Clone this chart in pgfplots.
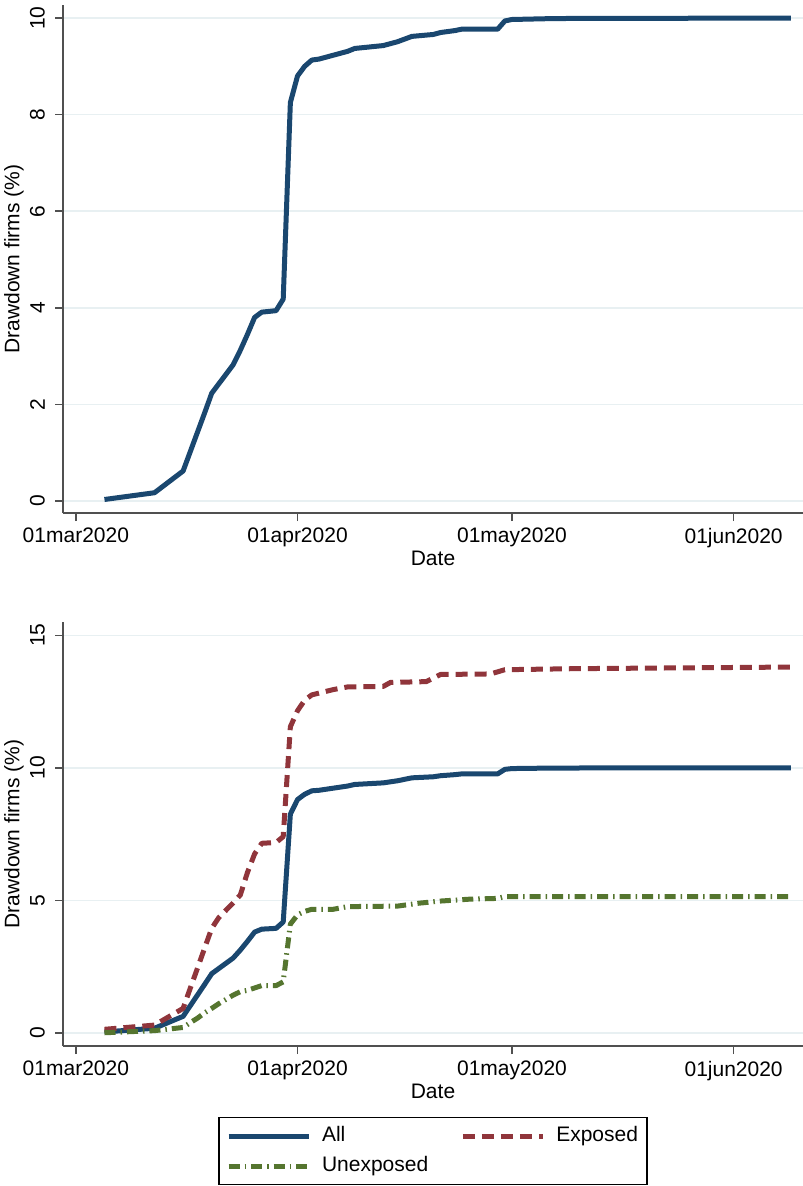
\documentclass[border=0pt]{standalone}
\usepackage{fontspec}
\setmainfont{Liberation Sans}
\usepackage{pgfplots}
\pgfplotsset{compat=1.18}
\usepackage{pgfplotstable}

\definecolor{stblue}{RGB}{26,71,111}
\definecolor{stred}{RGB}{144,53,59}
\definecolor{stgreen}{RGB}{85,117,47}
\definecolor{gridc}{RGB}{232,240,242}
\definecolor{axisc}{RGB}{80,80,80}

% day = days since 01mar2020, value = share of firms with a drawdown (%)
\pgfplotstableread{
day val
4 0.03
11 0.17
15 0.62
16 1.02
17 1.42
18 1.82
19 2.23
22 2.82
23 3.12
24 3.45
25 3.80
26 3.91
28 3.94
29 4.18
30 8.25
31 8.80
32 9.00
33 9.13
34 9.15
36 9.23
38 9.31
39 9.37
43 9.43
45 9.51
47 9.62
50 9.66
51 9.70
53 9.74
54 9.77
59 9.77
60 9.94
61 9.97
67 9.99
100 10.00
}\allfirms

\pgfplotstableread{
day val
4 0.13
11 0.29
15 0.92
16 1.68
17 2.43
18 3.19
19 3.94
20 4.35
22 4.90
23 5.20
24 6.05
25 6.75
26 7.15
28 7.18
29 7.40
30 11.55
31 12.15
32 12.55
33 12.75
36 12.95
38 13.05
43 13.07
44 13.22
49 13.25
51 13.52
58 13.54
60 13.70
70 13.74
85 13.77
100 13.80
}\exposed

\pgfplotstableread{
day val
4 0.00
11 0.08
15 0.20
16 0.38
17 0.55
18 0.75
19 0.92
20 1.10
22 1.42
23 1.55
24 1.60
26 1.78
28 1.78
29 1.92
30 4.10
31 4.45
32 4.58
33 4.66
36 4.66
38 4.76
45 4.78
48 4.89
51 4.97
55 5.04
59 5.07
60 5.14
100 5.14
}\unexposed

\pgfplotsset{
  stata/.style={
    scale only axis, width=740pt,
    axis x line*=bottom, axis y line*=left,
    axis line style={draw=axisc, line width=1.5pt, -},
    every tick/.style={draw=axisc, line width=1.5pt},
    tick align=outside, major tick length=8pt,
    xmin=-1.8, xmax=101.7,
    xtick={0,31,61,92},
    xticklabels={01mar2020,01apr2020,01may2020,01jun2020},
    ymajorgrids,
    grid style={draw=gridc, line width=1.5pt},
    /pgf/number format/assume math mode=true,
    tick label style={font=\fontsize{21}{21}\selectfont, inner sep=0pt},
    xticklabel style={anchor=north},
    xticklabel shift=7pt,
    yticklabel style={rotate=90, anchor=south},
    yticklabel shift=10pt,
    xlabel={Date}, ylabel={Drawdown firms (\%)},
    every axis x label/.style={at={(axis description cs:0.5,0)}, anchor=center,
      yshift=-45pt, font=\fontsize{21}{21}\selectfont},
    every axis y label/.style={at={(axis description cs:0,0.5)}, anchor=center,
      xshift=-49pt, rotate=90, font=\fontsize{21}{21}\selectfont},
    every axis plot/.append style={line join=round, line width=5pt},
  },
}

\begin{document}
\begin{tikzpicture}
\useasboundingbox (0pt,0pt) rectangle (803pt,-1186pt);

% top panel: all firms
\begin{axis}[stata, at={(63pt,-513pt)}, anchor=south west, height=508pt,
  ymin=-0.25, ymax=10.27, ytick={0,2,4,6,8,10}]
  \addplot[stblue] table[x=day, y=val] {\allfirms};
\end{axis}

% bottom panel: by exposure
\begin{axis}[stata, at={(63pt,-1046pt)}, anchor=south west, height=424pt,
  ymin=-0.5, ymax=15.5, ytick={0,5,10,15},
  legend columns=2,
  legend image code/.code={\draw[#1] (0pt,0pt) -- (80pt,0pt);},
  legend style={at={(axis description cs:0.5,-0.1675)}, anchor=north,
    draw=black, line width=1.2pt, font=\fontsize{21}{21}\selectfont,
    inner xsep=7pt, inner ysep=7pt, row sep=7pt,
    nodes={inner sep=2pt, text height=15pt, text depth=4pt, anchor=west},
    /tikz/every odd column/.append style={column sep=9pt},
    /tikz/every even column/.append style={column sep=30pt}},
  legend cell align=left]
  \addplot[stblue] table[x=day, y=val] {\allfirms};
  \addlegendentry{All}
  \addplot[stred, dash pattern=on 12pt off 7pt] table[x=day, y=val] {\exposed};
  \addlegendentry{Exposed}
  \addplot[stgreen, dash pattern=on 11pt off 5pt on 1.5pt off 5pt] table[x=day, y=val] {\unexposed};
  \addlegendentry{Unexposed}
\end{axis}
\end{tikzpicture}
\end{document}
